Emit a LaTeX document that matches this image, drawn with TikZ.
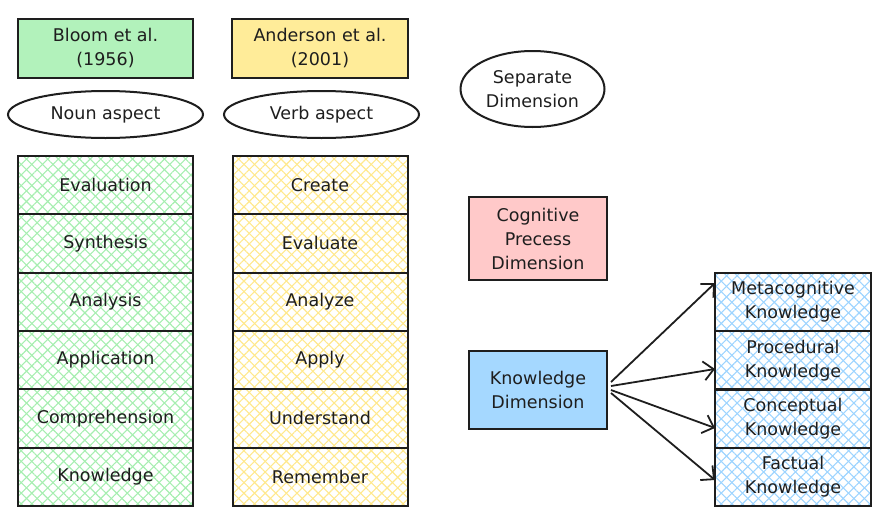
\documentclass[tikz,border=0pt]{standalone}
\usepackage{fontspec}
\setmainfont{DejaVu Sans}
\usetikzlibrary{patterns.meta,arrows.meta,shapes.geometric}
\definecolor{ink}{HTML}{1E1E1E}
\definecolor{gfill}{HTML}{B2F2BB}
\definecolor{yfill}{HTML}{FFEC99}
\definecolor{rfill}{HTML}{FFC9C9}
\definecolor{bfill}{HTML}{A5D8FF}
\definecolor{ghatch}{HTML}{A6EEB0}
\definecolor{yhatch}{HTML}{FFE88C}
\definecolor{bhatch}{HTML}{9DD4FF}
\tikzset{
  base/.style={draw=ink, line width=2pt, align=center, text=ink,
    font=\fontsize{17.5}{24}\selectfont, inner sep=0pt},
  hatchbox/.style={base, draw=none, outer sep=0pt, minimum width=175pt, minimum height=58.3pt,
    preaction={pattern={Lines[angle=45,distance=7.5pt,line width=1.1pt]}, pattern color=#1},
    pattern={Lines[angle=-45,distance=7.5pt,line width=1.1pt]}, pattern color=#1},
  oval/.style={base, ellipse},
  frame/.style={draw=ink, line width=2pt},
  arr/.style={draw=ink, line width=1.8pt, -{Straight Barb[length=10pt,width=19pt,line width=1.8pt]}}
}
\begin{document}
\begin{tikzpicture}[x=1pt,y=-1pt]
\useasboundingbox (0,0) rectangle (885,525);
% headers
\node[base, fill=gfill, minimum width=175pt, minimum height=59pt] (bloom) at (105.5,48.5) {Bloom et al.\\(1956)};
\node[base, fill=yfill, minimum width=176pt, minimum height=59pt] (anderson) at (320,48.5) {Anderson et al.\\(2001)};
\node[oval, minimum width=195pt, minimum height=47pt] (noun) at (105.5,114.5) {Noun aspect};
\node[oval, minimum width=195pt, minimum height=47pt] (verb) at (321.5,114.5) {Verb aspect};
\node[oval, minimum width=144pt, minimum height=76pt] (sep) at (532.5,89) {Separate\\Dimension};
\node[base, fill=rfill, minimum width=138pt, minimum height=83pt] (cog) at (538,238.5) {Cognitive\\Precess\\Dimension};
\node[base, fill=bfill, minimum width=138pt, minimum height=78pt] (kd) at (538,390) {Knowledge\\Dimension};
% left stack
\node[hatchbox=ghatch] (b1) at (105.5,185.15) {Evaluation};
\node[hatchbox=ghatch] (b2) at (105.5,243.45) {Synthesis};
\node[hatchbox=ghatch] (b3) at (105.5,301.75) {Analysis};
\node[hatchbox=ghatch] (b4) at (105.5,360.05) {Application};
\node[hatchbox=ghatch] (b5) at (105.5,418.35) {Comprehension};
\node[hatchbox=ghatch] (b6) at (105.5,476.65) {Knowledge};
% middle stack
\node[hatchbox=yhatch] (a1) at (320,185.15) {Create};
\node[hatchbox=yhatch] (a2) at (320,243.45) {Evaluate};
\node[hatchbox=yhatch] (a3) at (320,301.75) {Analyze};
\node[hatchbox=yhatch] (a4) at (320,360.05) {Apply};
\node[hatchbox=yhatch] (a5) at (320,418.35) {Understand};
\node[hatchbox=yhatch] (a6) at (320,476.65) {Remember};
% right stack
\node[hatchbox=bhatch, minimum width=156pt, minimum height=58.25pt] (k1) at (793,302.1) {Metacognitive\\Knowledge};
\node[hatchbox=bhatch, minimum width=156pt, minimum height=58.25pt] (k2) at (793,360.4) {Procedural\\Knowledge};
\node[hatchbox=bhatch, minimum width=156pt, minimum height=58.25pt] (k3) at (793,418.6) {Conceptual\\Knowledge};
\node[hatchbox=bhatch, minimum width=156pt, minimum height=58.25pt] (k4) at (793,476.9) {Factual\\Knowledge};
% frames on top of fills
\foreach \n in {b1,b2,b3,b4,b5,b6,a1,a2,a3,a4,a5,a6,k1,k2,k3,k4}
  \draw[frame] (\n.north west) rectangle (\n.south east);
% arrows
\coordinate (s1) at (611,382);
\coordinate (s2) at (611,386);
\coordinate (s3) at (611,390);
\coordinate (s4) at (611,393);
\draw[arr] (s1) -- (k1.west |- 0,283);
\draw[arr] (s2) -- (k2.west |- 0,369);
\draw[arr] (s3) -- (k3.west |- 0,428);
\draw[arr] (s4) -- (k4.west |- 0,480);
\end{tikzpicture}
\end{document}
